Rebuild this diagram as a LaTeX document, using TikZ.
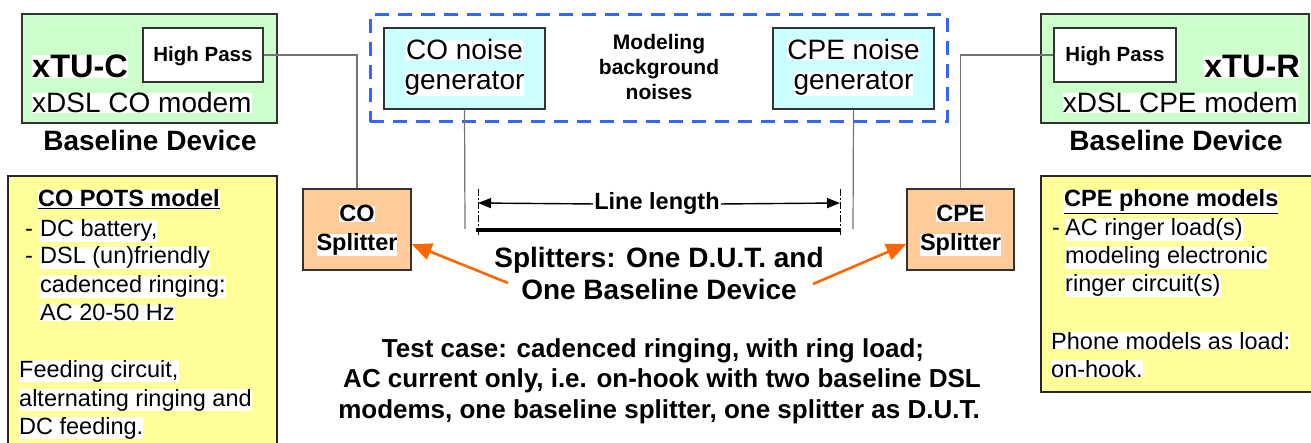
\documentclass[tikz,border=0pt]{standalone}
\usepackage{fontspec}
\setmainfont{Liberation Sans}
\usetikzlibrary{arrows.meta}
\definecolor{modemgreen}{HTML}{CCFFCC}
\definecolor{noisecyan}{HTML}{CCFFFF}
\definecolor{splitorange}{HTML}{FFCC99}
\definecolor{noteyellow}{HTML}{FFFF99}
\definecolor{dashblue}{HTML}{3366FF}
\definecolor{arroworange}{HTML}{FF6600}
\tikzset{
  fs/.style={font=\fontsize{#1}{#1}\selectfont},
  fsb/.style={font=\bfseries\fontsize{#1}{#1}\selectfont},
  txt/.style={inner sep=0pt, fill=white},
  boxshape/.style={draw=black!80, line width=1.3pt, inner sep=0pt},
  conn/.style={draw=black!55, line width=1.2pt},
  orarrow/.style={draw=arroworange, line width=2.6pt, -{Triangle[length=20pt,width=17pt]}},
  dimarrow/.style={line width=1.4pt, -{Triangle[length=13pt,width=10pt]}},
}
\begin{document}
\begin{tikzpicture}[x=1pt,y=-1pt]
\useasboundingbox (0,0) rectangle (1311,443);

% ---- boxes ----
\node[boxshape, fill=modemgreen, minimum width=255, minimum height=109] (xtuc) at (149.5,68.5) {};
\node[boxshape, fill=white, minimum width=120, minimum height=54] (hpc) at (203,55) {};
\node[boxshape, fill=modemgreen, minimum width=268, minimum height=109] (xtur) at (1175,68.5) {};
\node[boxshape, fill=white, minimum width=122, minimum height=54] (hpr) at (1115,55) {};
\node[draw=dashblue, line width=3pt, dash pattern=on 14pt off 9pt, minimum width=577, minimum height=107, inner sep=0pt] (noisegrp) at (658.5,68.5) {};
\node[boxshape, fill=noisecyan, minimum width=161, minimum height=81] (conoise) at (464.5,68.5) {};
\node[boxshape, fill=noisecyan, minimum width=161, minimum height=81] (cpenoise) at (853.5,68.5) {};
\node[boxshape, fill=splitorange, minimum width=108, minimum height=81] (cospl) at (357,229.5) {};
\node[boxshape, fill=splitorange, minimum width=107, minimum height=81] (cpespl) at (960.5,229.5) {};
\node[draw=black!85, line width=2.5pt, fill=noteyellow, minimum width=269, minimum height=284, inner sep=0pt] (copots) at (142.5,318) {};
\node[draw=black!85, line width=2.5pt, fill=noteyellow, minimum width=279, minimum height=216, inner sep=0pt] (cpeph) at (1180.5,284) {};

% ---- texts in modem boxes ----
\node[txt, fsb=20.5, anchor=base] (hpctxt) at (203,62) {High Pass};
\node[txt, fsb=32.5, anchor=base west] (xtuctxt) at (32,78) {xTU-C};
\node[txt, fs=28, anchor=base west] (xtucsub) at (32,113) {xDSL CO modem};
\node[inner sep=0pt, fsb=28, anchor=base] (bdl) at (150,151) {Baseline Device};
\node[txt, fsb=20.5, anchor=base] (hprtxt) at (1115,62) {High Pass};
\node[txt, fsb=32.5, anchor=base east] (xturtxt) at (1300,78) {xTU-R};
\node[txt, fs=28, anchor=base east] (xtursub) at (1298,113) {xDSL CPE modem};
\node[inner sep=0pt, fsb=28, anchor=base] (bdr) at (1176,151) {Baseline Device};

% ---- noise generators ----
\node[txt, fs=28, anchor=base] (con1) at (464.5,60) {CO noise};
\node[txt, fs=28, anchor=base] (con2) at (464.5,90) {generator};
\node[txt, fs=28, anchor=base] (cpen1) at (853.5,60) {CPE noise};
\node[txt, fs=28, anchor=base] (cpen2) at (853.5,90) {generator};
\node[inner sep=0pt, fsb=21, anchor=base] (mod1) at (659,50) {Modeling};
\node[inner sep=0pt, fsb=21, anchor=base] (mod2) at (659,75) {background};
\node[inner sep=0pt, fsb=21, anchor=base] (mod3) at (659,100) {noises};

% ---- splitters ----
\node[txt, fsb=23.5, anchor=base] (cos1) at (357,222) {CO};
\node[txt, fsb=23.5, anchor=base] (cos2) at (357,251) {Splitter};
\node[txt, fsb=23.5, anchor=base] (cpes1) at (960.5,222) {CPE};
\node[txt, fsb=23.5, anchor=base] (cpes2) at (960.5,251) {Splitter};

% ---- connectors ----
\draw[conn] (hpc.east) -| (cospl.north);
\draw[conn] (hpr.west) -| (cpespl.north);
\coordinate (conoiseEnd) at (465,229);
\coordinate (cpenoiseEnd) at (853,229);
\draw[conn] (conoise.south) -- (conoiseEnd);
\draw[conn] (cpenoise.south) -- (cpenoiseEnd);

% ---- line length ----
\coordinate (tickLt) at (478,189);
\coordinate (tickLb) at (478,236);
\coordinate (tickRt) at (840,189);
\coordinate (tickRb) at (840,236);
\draw[line width=1pt, dash pattern=on 7pt off 2pt on 2pt off 2pt] (tickLt) -- (tickLb);
\draw[line width=1pt, dash pattern=on 7pt off 2pt on 2pt off 2pt] (tickRt) -- (tickRb);
\coordinate (dimL) at (478,203);
\coordinate (dimR) at (840,203);
\node[txt, fsb=23.5, anchor=base, inner xsep=1pt] (linelen) at (657,210) {Line length};
\draw[dimarrow] (linelen.west) -- (dimL);
\draw[dimarrow] (linelen.east) -- (dimR);
\coordinate (lineA) at (476,230);
\coordinate (lineB) at (841,230);
\draw[line width=4pt] (lineA) -- (lineB);

% ---- splitters caption and arrows ----
\node[inner sep=0pt, fsb=28, anchor=base] (sp1) at (659,268) {Splitters: One D.U.T. and};
\node[inner sep=0pt, fsb=28, anchor=base] (sp2) at (659,300) {One Baseline Device};
\coordinate (arrL) at (508,283);
\coordinate (arrR) at (813,284);
\draw[orarrow] (arrL) -- (cospl.-15);
\draw[orarrow] (arrR) -- (cpespl.195);

% ---- test case ----
\node[inner sep=0pt, fsb=26, anchor=base] (tc1) at (653,357) {Test case: cadenced ringing, with ring load;};
\node[inner sep=0pt, fsb=26, anchor=base] (tc2) at (662,387) {AC current only, i.e. on-hook with two baseline DSL};
\node[inner sep=0pt, fsb=26, anchor=base] (tc3) at (659,418) {modems, one baseline splitter, one splitter as D.U.T.};

% ---- CO POTS model ----
\node[txt, fsb=23.5, anchor=base west] (cop) at (38,207) {\underline{CO POTS model}};
\node[inner sep=0pt, fs=23.5, anchor=base west] (cd1) at (25,237) {-};
\node[txt, fs=23.5, anchor=base west] (cl1) at (40,237) {DC battery,};
\node[inner sep=0pt, fs=23.5, anchor=base west] (cd2) at (25,264) {-};
\node[txt, fs=23.5, anchor=base west] (cl2) at (40,264) {DSL (un)friendly};
\node[txt, fs=23.5, anchor=base west] (cl3) at (40,293) {cadenced ringing:};
\node[txt, fs=23.5, anchor=base west] (cl4) at (40,321) {AC 20-50 Hz};
\node[txt, fs=23.5, anchor=base west] (cl5) at (19,377) {Feeding circuit,};
\node[txt, fs=23.5, anchor=base west] (cl6) at (19,406) {alternating ringing and};
\node[txt, fs=23.5, anchor=base west] (cl7) at (19,434) {DC feeding.};

% ---- CPE phone models ----
\node[txt, fsb=23.5, anchor=base west] (cpm) at (1064,207) {\underline{CPE phone models}};
\node[inner sep=0pt, fs=23.5, anchor=base west] (rd1) at (1052,236) {-};
\node[txt, fs=23.5, anchor=base west] (rl1) at (1065,236) {AC ringer load(s)};
\node[txt, fs=23.5, anchor=base west] (rl2) at (1065,264) {modeling electronic};
\node[txt, fs=23.5, anchor=base west] (rl3) at (1065,292) {ringer circuit(s)};
\node[txt, fs=23.5, anchor=base west] (rl4) at (1051,349) {Phone models as load:};
\node[txt, fs=23.5, anchor=base west] (rl5) at (1051,377) {on-hook.};
\end{tikzpicture}
\end{document}
